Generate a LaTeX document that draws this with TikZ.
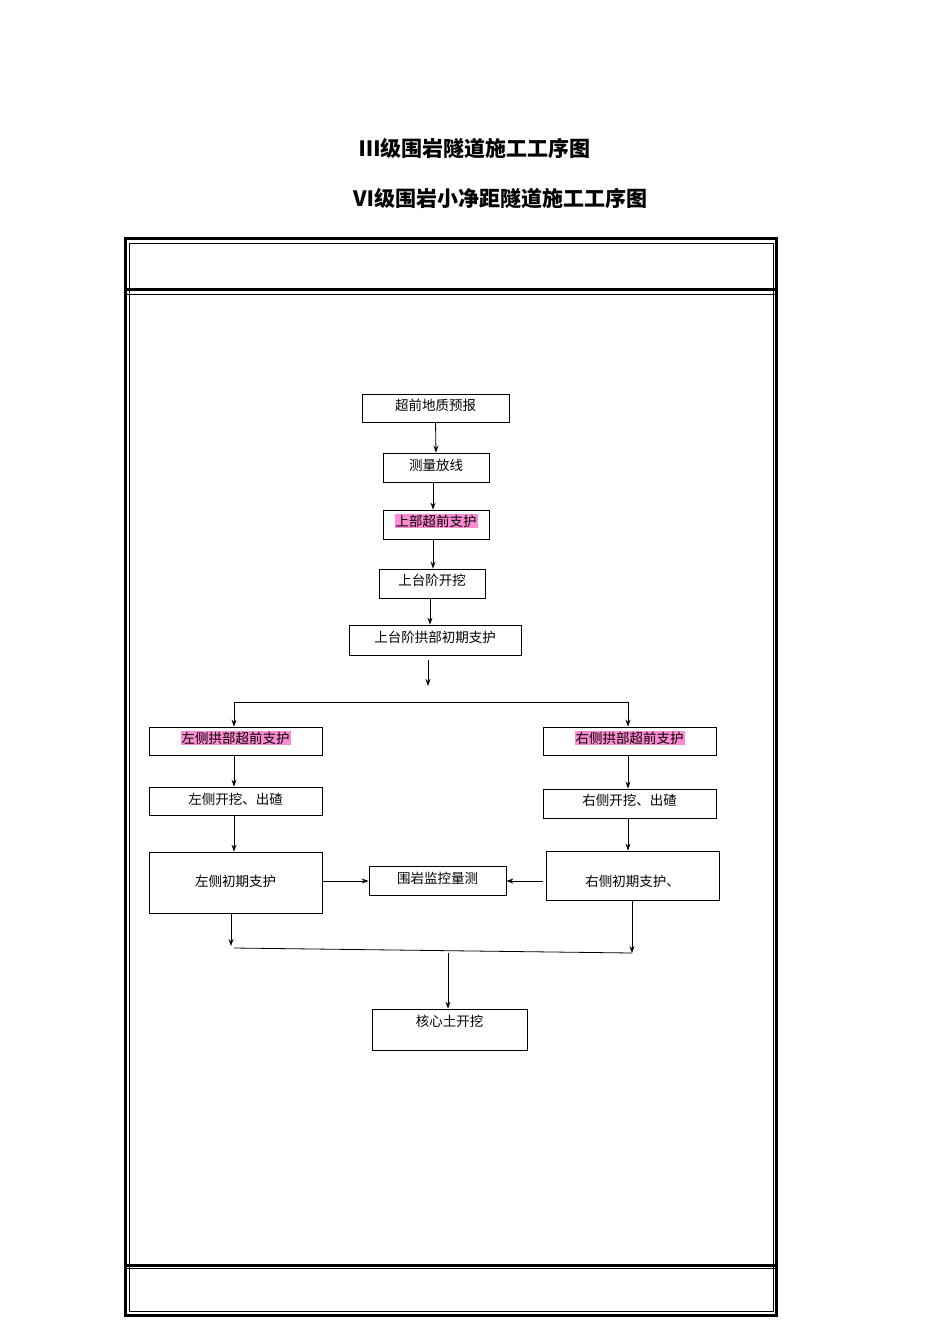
\documentclass[tikz,border=0pt]{standalone}
\usepackage{fontspec}
\newfontfamily\cjk{Noto Sans CJK SC}
\usetikzlibrary{arrows.meta}
\begin{document}
\begin{tikzpicture}[x=1pt,y=-1pt,
 bx/.style={draw,line width=0.8pt,inner sep=0pt},
 lb/.style={font=\cjk\fontsize{13.5}{14}\selectfont,inner sep=1pt},
 pk/.style={lb,fill={rgb,255:red,255;green,140;blue,210}},
 ar/.style={-{Stealth[length=7pt,width=5pt]},line width=0.8pt},
 ln/.style={line width=0.8pt}]
\useasboundingbox (0,0) rectangle (950,1344);
\node[font=\cjk\bfseries\fontsize{21}{22}\selectfont] (t1) at (475,149) {Ⅲ级围岩隧道施工工序图};
\node[font=\cjk\bfseries\fontsize{21}{22}\selectfont] (t2) at (500,199) {Ⅵ级围岩小净距隧道施工工序图};
% frame
\draw[line width=3pt] (125.5,238.5) rectangle (776.5,1315.5);
\draw[line width=0.6pt] (129,243) rectangle (773,1311);
\draw[line width=3pt] (125,289) -- (777,289);
\draw[line width=3pt] (125,1265) -- (777,1265);
\draw[line width=0.6pt] (125,294) -- (777,294);
\draw[line width=0.6pt] (125,1268) -- (777,1268);
% boxes
\node[bx,minimum width=147,minimum height=28] (b1) at (435.5,408) {};
\node[lb] at (435.5,405) {超前地质预报};
\node[bx,minimum width=106,minimum height=29] (b2) at (436,467.5) {};
\node[lb] at (436,465) {测量放线};
\node[bx,minimum width=106,minimum height=29] (b3) at (436,524.5) {};
\node[pk] at (436,521) {上部超前支护};
\node[bx,minimum width=106,minimum height=29] (b4) at (432,583.5) {};
\node[lb] at (432,580) {上台阶开挖};
\node[bx,minimum width=172,minimum height=30] (b5) at (435,640) {};
\node[lb] at (435,637) {上台阶拱部初期支护};
\node[bx,minimum width=173,minimum height=28] (b6) at (235.5,741) {};
\node[pk] at (235.5,738) {左侧拱部超前支护};
\node[bx,minimum width=173,minimum height=28] (b7) at (629.5,741) {};
\node[pk] at (629.5,738) {右侧拱部超前支护};
\node[bx,minimum width=173,minimum height=28] (b8) at (235.5,801) {};
\node[lb] at (235.5,799) {左侧开挖、出碴};
\node[bx,minimum width=173,minimum height=29] (b9) at (629.5,803.5) {};
\node[lb] at (629.5,800) {右侧开挖、出碴};
\node[bx,minimum width=173,minimum height=61] (b10) at (235.5,882.5) {};
\node[lb] at (235.5,881) {左侧初期支护};
\node[bx,minimum width=137,minimum height=29] (b11) at (437.5,880.5) {};
\node[lb] at (437.5,878) {围岩监控量测};
\node[bx,minimum width=173,minimum height=49] (b12) at (632.5,875.5) {};
\node[lb] at (632.5,881) {右侧初期支护、};
\node[bx,minimum width=155,minimum height=41] (b13) at (449.5,1029.5) {};
\node[lb] at (449.5,1021) {核心土开挖};
% connectors
\coordinate (c5) at (428,660); \coordinate (c5e) at (428,686);
\coordinate (hl) at (234,702); \coordinate (hr) at (628,702);
\coordinate (j1) at (231,946); \coordinate (j2) at (632,953);
\coordinate (m1) at (234,948); \coordinate (m2) at (448,953);
\coordinate (r1) at (543,881);
\draw[ar] (b1.south) -- (b2.north);
\draw[ar] (b2.south -| 433,0) -- (b3.north -| 433,0);
\draw[ar] (b3.south -| 433,0) -- (b4.north -| 433,0);
\draw[ar] (b4.south -| 430,0) -- (b5.north -| 430,0);
\draw[ar] (c5) -- (c5e);
\draw[ln] (hl) -- (hr);
\draw[ar] (hl) -- (b6.north -| hl);
\draw[ar] (hr) -- (b7.north -| hr);
\draw[ar] (b6.south -| 234,0) -- (b8.north -| 234,0);
\draw[ar] (b7.south -| 628,0) -- (b9.north -| 628,0);
\draw[ar] (b8.south -| 234,0) -- (b10.north -| 234,0);
\draw[ar] (b9.south -| 628,0) -- (b12.north -| 628,0);
\draw[ar] (b10.east |- r1) -- (b11.west |- r1);
\draw[ar] (r1) -- (b11.east |- r1);
\draw[ar] (b10.south -| j1) -- (j1);
\draw[ar] (b12.south -| j2) -- (j2);
\draw[ln] (m1) -- (j2);
\draw[ar] (m2) -- (b13.north -| m2);
\end{tikzpicture}
\end{document}
